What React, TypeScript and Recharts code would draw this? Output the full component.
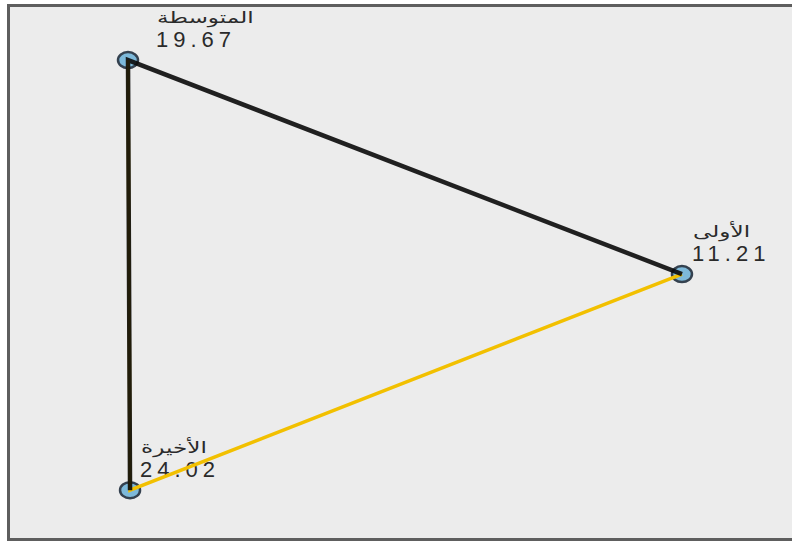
import { ScatterChart, Scatter, XAxis, YAxis } from "recharts";

// group names and their means, as printed beside each marker
const GROUPS = ["الأولى", "المتوسطة", "الأخيرة"];
const MEANS = [11.21, 19.67, 24.02];

// where each group sits in the plot (0-100 on both axes)
const POS_X = [85.93, 15.09, 15.35];
const POS_Y = [49.7, 90, 9.0];

// order in which the two connecting lines visit the groups
const BLACK_ORDER = [2, 1, 0];
const YELLOW_ORDER = [1, 2, 0];

const points = GROUPS.map((name, i) => ({
  name,
  mean: MEANS[i],
  x: POS_X[i],
  y: POS_Y[i],
}));

const blackLine = BLACK_ORDER.map((i) => points[i]);
const yellowLine = YELLOW_ORDER.map((i) => points[i]);

const W = 782;
const H = 531;

const Marker = (props: any) => {
  const { cx, cy, payload } = props;
  // the top label is pushed right, away from the line
  const dx = payload.name === "المتوسطة" ? 28 : 10;
  return (
    <g>
      <ellipse cx={cx} cy={cy} rx={10} ry={8} fill="#7db9da" stroke="#34414f" strokeWidth={2.5} />
      <text
        transform={`translate(${cx + dx + 1},${cy - 37}) scale(1.45,1)`}
        fontFamily="DejaVu Sans"
        fontSize={16}
        fill="#2a2a2a"
      >
        {payload.name}
      </text>
      <text
        x={cx + dx}
        y={cy - 13}
        fontFamily="Liberation Sans, Arial"
        fontSize={22}
        letterSpacing={5}
        fill="#2a2a2a"
      >
        {payload.mean.toFixed(2)}
      </text>
    </g>
  );
};

const NoDot = () => <g />;

export default function App() {
  return (
    <div
      style={{
        position: "fixed",
        left: 7,
        top: 4,
        width: W + 3,
        height: H + 6,
        boxSizing: "border-box",
        overflow: "hidden",
        background: "#ececec",
        borderLeft: "3px solid #5e5e5e",
        borderTop: "3px solid #5e5e5e",
        borderBottom: "3px solid #5e5e5e",
      }}
    >
      <ScatterChart width={W} height={H} margin={{ top: 0, right: 0, bottom: 0, left: 0 }}>
        <XAxis type="number" dataKey="x" domain={[0, 100]} hide />
        <YAxis type="number" dataKey="y" domain={[0, 100]} hide />
        <Scatter data={points} shape={<Marker />} isAnimationActive={false} />
        <Scatter
          data={yellowLine}
          line={{ stroke: "#f2c000", strokeWidth: 3.5 }}
          lineType="joint"
          shape={<NoDot />}
          isAnimationActive={false}
        />
        <Scatter
          data={blackLine}
          line={{ stroke: "#0a0a0a", strokeWidth: 4.5, strokeOpacity: 0.9 }}
          lineType="joint"
          shape={<NoDot />}
          isAnimationActive={false}
        />
      </ScatterChart>
    </div>
  );
}
